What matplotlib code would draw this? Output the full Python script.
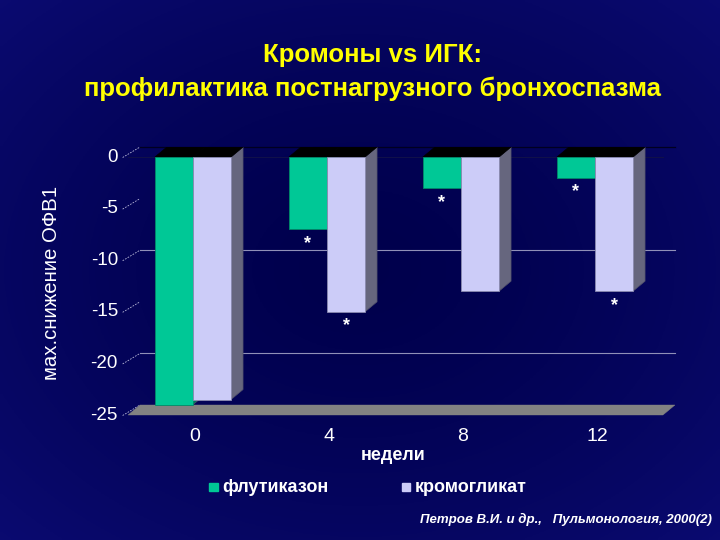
import matplotlib
matplotlib.use('Agg')
import matplotlib.pyplot as plt
from matplotlib.patches import Polygon
import numpy as np

# ---- data ----
weeks = ['0', '4', '8', '12']
fluticasone = [-24, -7, -3, -2]
cromoglycate = [-23.5, -15, -13, -13]
flu_sig = [False, True, True, True]
cro_sig = [False, True, False, True]
yticks = [0, -5, -10, -15, -20, -25]
ytick_labels = ['0', '-5', '-10', '-15', '-20', '-25']
gridvals = [-10, -20]
series_names = ['флутиказон', 'кромогликат']

GREEN = '#00C896'
LAV = '#CCCCF8'
SIDE = '#66667E'
W, H = 720, 540

plt.rcParams['font.family'] = ['Liberation Sans', 'DejaVu Sans']
fig = plt.figure(figsize=(7.2, 5.4), dpi=100)

# background gradient
bgax = fig.add_axes([0, 0, 1, 1], zorder=-10)
yy, xx = np.mgrid[-1:1:200j, -1:1:200j]
r = np.sqrt(xx**2 + yy**2) / np.sqrt(2)
c0 = np.array([0.0, 0.0, 0.30])
c1 = np.array([0.04, 0.04, 0.44])
img = c0[None, None, :] + (c1 - c0)[None, None, :] * (r[..., None] ** 1.5)
bgax.imshow(img, extent=[0, 1, 0, 1], aspect='auto')
bgax.axis('off')

ax = fig.add_axes([128 / W, (H - 415) / H, (675 - 128) / W, (415 - 147) / H])
ax.set_xlim(-0.485, 3.597)
ax.set_ylim(-25, 0.969)
ax.axis('off')
ax.patch.set_alpha(0)

dx = 12 / 134
dy = 10 / 10.32
bw = 0.284
x0f, x1f = -0.485, 3.507

# floor
ax.add_patch(Polygon([(x0f, -25), (x1f, -25), (x1f + dx, -25 + dy), (x0f + dx, -25 + dy)],
                     closed=True, facecolor='#828282', edgecolor='#828282', lw=0.3, zorder=1,
                     clip_on=False))
# gridlines on back wall
for v in gridvals:
    ax.plot([x0f + dx, x1f + dx], [v + dy, v + dy], color='#9090b8', lw=0.8, zorder=0.5,
            clip_on=False)
ax.plot([x0f + dx, x1f + dx], [dy, dy], color='#000020', lw=0.9, zorder=0.5, clip_on=False)
ax.plot([x0f, x1f], [0, 0], color='#10104a', lw=0.8, zorder=0.5, clip_on=False)
# diagonal tick marks + labels
for v, lab in zip(yticks, ytick_labels):
    ax.plot([x0f - 0.04, x0f + dx], [v - 0.05, v + dy], color='#b8b8d8', lw=0.6,
            ls=(0, (2, 1.5)), zorder=0.5, clip_on=False)
    ax.text(-0.56, v, lab, ha='right', va='center', color='white', fontsize=13.5,
            clip_on=False)

x = np.arange(len(weeks))
for i in range(len(weeks)):
    for vals, col, off, sig, ec in [(fluticasone, GREEN, -bw / 2, flu_sig, '#008a68'),
                                    (cromoglycate, LAV, bw / 2, cro_sig, '#8a8ab0')]:
        v = vals[i]
        xl = x[i] + off - bw / 2
        xr = x[i] + off + bw / 2
        # side face
        ax.add_patch(Polygon([(xr, 0), (xr + dx, dy), (xr + dx, v + dy), (xr, v)], closed=True,
                             facecolor=SIDE if col == LAV else '#007a5c',
                             edgecolor='#50506a', lw=0.5, zorder=2 + i * 2 + (off > 0)))
        # top face
        ax.add_patch(Polygon([(xl, 0), (xr, 0), (xr + dx, dy), (xl + dx, dy)], closed=True,
                             facecolor='black', edgecolor='black', lw=0.5,
                             zorder=2 + i * 2 + (off > 0)))
        ax.bar(x[i] + off, v, width=bw, color=col, edgecolor=ec, lw=0.6,
               zorder=2.5 + i * 2 + (off > 0))
        if sig[i]:
            ax.text(x[i] + off, v - 0.55, '*', ha='center', va='top', color='white',
                    fontsize=13, fontweight='bold', zorder=20)

for i, w in enumerate(weeks):
    ax.text(x[i] + 0.015, -27.1, w, ha='center', va='center', color='white', fontsize=14,
            clip_on=False)

# titles and labels
fig.text(372 / W, 1 - 55 / H, 'Кромоны vs ИГК:', ha='center', va='center', color='#FFFF00',
         fontsize=18.5, fontweight='bold')
fig.text(372 / W, 1 - 88.5 / H, 'профилактика постнагрузного бронхоспазма', ha='center',
         va='center', color='#FFFF00', fontsize=18.5, fontweight='bold')
fig.text(52 / W, 1 - 283 / H, 'мах.снижение ОФВ1', rotation=90, ha='center', va='center',
         color='white', fontsize=14.7)
fig.text(393 / W, 1 - 456 / H, 'недели', ha='center', va='center', color='white',
         fontsize=13, fontweight='bold')

# legend
for sx, name, col in [(209, series_names[0], GREEN), (402, series_names[1], LAV)]:
    fig.patches.append(plt.Rectangle((sx / W, 1 - 491 / H), 8.5 / W, 8.5 / H, color=col,
                                     transform=fig.transFigure, figure=fig))
    fig.text((sx + 13) / W, 1 - 487.5 / H, name, ha='left', va='center', color='white',
             fontsize=13, fontweight='bold')

fig.text(712 / W, 1 - 519 / H, 'Петров В.И. и др.,   Пульмонология, 2000(2)', ha='right',
         va='center', color='white', fontsize=9.5, fontweight='bold', fontstyle='italic')

fig.savefig('out.png', dpi=100)
